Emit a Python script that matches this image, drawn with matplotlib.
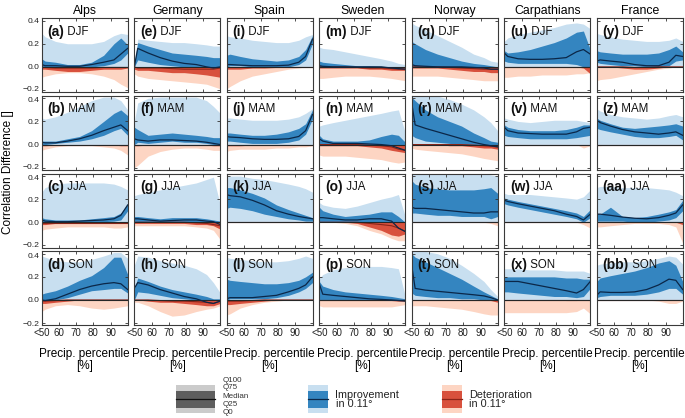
import matplotlib
matplotlib.use("Agg")
import matplotlib.pyplot as plt
from matplotlib.patches import Rectangle
from matplotlib.transforms import ScaledTranslation

plt.rcParams['font.family'] = ['Liberation Sans', 'DejaVu Sans']

# ---------------- data ----------------
countries = ["Alps", "Germany", "Spain", "Sweden", "Norway", "Carpathians", "France"]
seasons = ["DJF", "MAM", "JJA", "SON"]
panel_letters = ["a", "b", "c", "d", "e", "f", "g", "h", "i", "j", "k", "l", "m", "n",
                 "o", "p", "q", "r", "s", "t", "u", "v", "w", "x", "y", "z", "aa", "bb"]
percentiles = [50, 52, 58, 65, 72, 79, 86, 92, 96, 100]
xtick_values = [50, 60, 70, 80, 90]
xtick_labels = ["<50", "60", "70", "80", "90"]
ytick_values = [-0.2, 0.0, 0.2, 0.4]
ytick_labels = ["\u22120.2", "0.0", "0.2", "0.4"]

Z = [0, 0, 0, 0, 0, 0, 0, 0, 0, 0]

# Alps
alps_q100 = [[0.29, 0.26, 0.22, 0.20, 0.20, 0.20, 0.22, 0.27, 0.29, 0.28],
             [0.23, 0.22, 0.24, 0.28, 0.33, 0.38, 0.41, 0.41, 0.38, 0.30],
             [0.26, 0.30, 0.33, 0.34, 0.34, 0.34, 0.34, 0.33, 0.31, 0.28],
             [0.38, 0.37, 0.34, 0.33, 0.33, 0.35, 0.38, 0.41, 0.41, 0.36]]
alps_q75 = [[0.07, 0.05, 0.04, 0.02, 0.02, 0.04, 0.10, 0.20, 0.25, 0.19],
            [0.03, 0.03, 0.03, 0.05, 0.07, 0.12, 0.20, 0.27, 0.30, 0.25],
            [0.04, 0.03, 0.02, 0.02, 0.02, 0.03, 0.04, 0.05, 0.08, 0.16],
            [0.05, 0.06, 0.08, 0.12, 0.17, 0.21, 0.28, 0.37, 0.37, 0.22]]
alps_q25 = [[0.0, 0.0, 0.0, 0.0, 0.0, 0.0, 0.01, 0.03, 0.06, 0.12],
            [0.0, 0.0, 0.01, 0.02, 0.03, 0.05, 0.08, 0.12, 0.14, 0.08],
            [0.0, 0.0, 0.0, 0.0, 0.0, 0.0, 0.005, 0.01, 0.02, 0.10],
            [0.0, 0.0, 0.0, 0.02, 0.05, 0.08, 0.09, 0.10, 0.10, 0.06]]
alps_med = [[0.02, 0.01, 0.01, 0.005, 0.005, 0.02, 0.04, 0.06, 0.11, 0.16],
            [0.02, 0.015, 0.015, 0.03, 0.05, 0.08, 0.12, 0.15, 0.17, 0.12],
            [0.02, 0.01, 0.005, 0.005, 0.01, 0.015, 0.02, 0.03, 0.06, 0.15],
            [0.0, -0.005, 0.01, 0.05, 0.09, 0.12, 0.14, 0.15, 0.14, 0.09]]
alps_rq0 = [[-0.09, -0.08, -0.06, -0.05, -0.05, -0.06, -0.08, -0.11, -0.15, -0.18],
            [-0.05, -0.04, -0.02, -0.01, -0.01, -0.01, -0.02, -0.03, -0.05, -0.09],
            [-0.07, -0.06, -0.05, -0.04, -0.04, -0.04, -0.04, -0.05, -0.05, -0.04],
            [-0.10, -0.08, -0.05, -0.04, -0.05, -0.07, -0.08, -0.07, -0.06, -0.05]]
alps_rq25 = [[-0.02, -0.02, -0.03, -0.04, -0.04, -0.03, -0.02, -0.02, -0.02, -0.01],
             [-0.01, -0.01, -0.005, 0, 0, 0, 0, -0.005, -0.01, -0.01],
             [-0.02, -0.02, -0.01, -0.01, -0.01, -0.01, -0.01, -0.01, -0.01, -0.01],
             [-0.03, -0.03, -0.02, -0.01, 0, 0, 0, 0, 0, 0]]
alps_rmed = [[-0.005, -0.005, -0.01, -0.01, -0.01, -0.01, -0.005, -0.005, -0.005, -0.005],
             Z,
             [-0.005, -0.005, -0.005, -0.005, -0.005, -0.005, -0.005, -0.005, -0.005, -0.005],
             [-0.01, -0.01, -0.005, 0, 0, 0, 0, 0, 0, 0]]

# Germany
germany_q100 = [[0.05, 0.24, 0.23, 0.22, 0.21, 0.21, 0.20, 0.19, 0.18, 0.18],
                [0.20, 0.36, 0.40, 0.41, 0.41, 0.41, 0.41, 0.38, 0.33, 0.27],
                [0.23, 0.24, 0.26, 0.28, 0.30, 0.32, 0.34, 0.37, 0.39, 0.15],
                [0.30, 0.38, 0.37, 0.34, 0.32, 0.30, 0.27, 0.22, 0.15, 0.06]]
germany_q75 = [[0.03, 0.21, 0.18, 0.15, 0.12, 0.11, 0.10, 0.09, 0.08, 0.08],
               [0.15, 0.13, 0.08, 0.09, 0.10, 0.09, 0.08, 0.07, 0.06, 0.06],
               [0.05, 0.05, 0.04, 0.03, 0.04, 0.04, 0.04, 0.03, 0.02, 0.01],
               [0.10, 0.19, 0.16, 0.12, 0.09, 0.07, 0.05, 0.03, 0.01, 0.01]]
germany_q25 = [[0.0, 0.06, 0.04, 0.02, 0.01, 0.0, 0.0, 0.0, 0.0, 0.0],
               [0.0, 0.02, 0.01, 0.02, 0.03, 0.02, 0.02, 0.01, 0.0, 0.0],
               Z,
               [0.0, 0.07, 0.06, 0.04, 0.02, 0.01, 0.0, 0.0, 0.0, 0.0]]
germany_med = [[0.0, 0.16, 0.12, 0.08, 0.05, 0.03, 0.02, 0.0, -0.01, 0.0],
               [0.05, 0.04, 0.03, 0.04, 0.04, 0.035, 0.03, 0.02, 0.01, 0.0],
               [0.03, 0.03, 0.02, 0.01, 0.015, 0.02, 0.02, 0.01, 0.005, -0.02],
               [0.10, 0.15, 0.13, 0.09, 0.06, 0.03, 0.01, -0.02, -0.03, -0.01]]
germany_rq0 = [[-0.06, -0.08, -0.10, -0.11, -0.12, -0.13, -0.14, -0.15, -0.17, -0.19],
               [-0.20, -0.18, -0.10, -0.06, -0.04, -0.03, -0.03, -0.04, -0.05, -0.05],
               [-0.03, -0.03, -0.03, -0.03, -0.03, -0.03, -0.04, -0.05, -0.07, -0.15],
               [-0.02, -0.02, -0.05, -0.10, -0.14, -0.13, -0.10, -0.08, -0.07, -0.05]]
germany_rq25 = [[-0.02, -0.03, -0.03, -0.04, -0.05, -0.05, -0.06, -0.07, -0.08, -0.09],
                [-0.01, -0.01, -0.005, 0, 0, 0, 0, -0.005, -0.01, -0.01],
                [-0.01, -0.01, -0.01, -0.01, -0.01, -0.01, -0.02, -0.02, -0.03, -0.06],
                [0.0, 0.0, -0.01, -0.02, -0.02, -0.03, -0.04, -0.05, -0.05, -0.03]]
germany_rmed = [[0.0, -0.01, -0.01, -0.01, -0.015, -0.02, -0.02, -0.02, -0.02, -0.01],
                Z,
                [0, 0, 0, 0, 0, 0, -0.005, -0.01, -0.02, -0.03],
                [0, 0, 0, -0.005, -0.01, -0.01, -0.015, -0.02, -0.03, -0.01]]

# Spain
spain_q100 = [[0.27, 0.26, 0.25, 0.23, 0.22, 0.21, 0.21, 0.23, 0.26, 0.28],
              [0.23, 0.23, 0.22, 0.21, 0.21, 0.21, 0.22, 0.24, 0.27, 0.31],
              [0.39, 0.40, 0.40, 0.38, 0.37, 0.35, 0.33, 0.31, 0.29, 0.26],
              [0.37, 0.36, 0.35, 0.34, 0.33, 0.33, 0.34, 0.36, 0.38, 0.36]]
spain_q75 = [[0.10, 0.11, 0.09, 0.07, 0.06, 0.05, 0.06, 0.09, 0.15, 0.27],
             [0.10, 0.10, 0.09, 0.08, 0.08, 0.09, 0.11, 0.14, 0.18, 0.30],
             [0.30, 0.30, 0.28, 0.25, 0.21, 0.15, 0.11, 0.08, 0.06, 0.04],
             [0.18, 0.17, 0.16, 0.15, 0.14, 0.14, 0.15, 0.17, 0.20, 0.24]]
spain_q25 = [[0.0, 0.01, 0.01, 0.0, 0.0, 0.0, 0.0, 0.02, 0.06, 0.20],
             [0.03, 0.03, 0.02, 0.01, 0.01, 0.01, 0.02, 0.04, 0.09, 0.22],
             [0.12, 0.13, 0.12, 0.10, 0.07, 0.05, 0.03, 0.02, 0.01, 0.01],
             [0.0, 0.01, 0.01, 0.01, 0.01, 0.02, 0.04, 0.07, 0.10, 0.15]]
spain_med = [[0.02, 0.02, 0.015, 0.01, 0.01, 0.01, 0.015, 0.04, 0.09, 0.24],
             [0.07, 0.065, 0.06, 0.05, 0.045, 0.045, 0.05, 0.07, 0.12, 0.26],
             [0.24, 0.23, 0.22, 0.19, 0.15, 0.10, 0.07, 0.05, 0.04, 0.03],
             [0.01, 0.02, 0.02, 0.02, 0.03, 0.04, 0.07, 0.10, 0.13, 0.20]]
spain_rq0 = [[-0.19, -0.17, -0.12, -0.08, -0.06, -0.04, -0.02, -0.01, 0.0, 0.0],
             [-0.06, -0.05, -0.04, -0.04, -0.04, -0.03, -0.03, -0.02, -0.02, -0.01],
             Z,
             [-0.13, -0.12, -0.07, -0.04, -0.02, -0.01, 0, 0, 0, 0]]
spain_rq25 = [[-0.02, -0.02, -0.02, -0.01, -0.01, -0.005, 0, 0, 0, 0],
              [-0.01, -0.01, -0.01, -0.005, -0.005, 0, 0, 0, 0, 0],
              Z,
              [-0.04, -0.04, -0.03, -0.02, -0.01, 0, 0, 0, 0, 0]]
spain_rmed = [Z, Z, Z, [-0.01, -0.01, -0.01, -0.005, 0, 0, 0, 0, 0, 0]]

# Sweden
sweden_q100 = [[0.17, 0.16, 0.15, 0.13, 0.11, 0.09, 0.07, 0.05, 0.03, 0.02],
               [0.16, 0.17, 0.19, 0.21, 0.23, 0.25, 0.27, 0.29, 0.30, 0.10],
               [0.17, 0.15, 0.13, 0.12, 0.14, 0.17, 0.20, 0.22, 0.24, 0.05],
               [0.19, 0.22, 0.26, 0.28, 0.29, 0.29, 0.29, 0.28, 0.27, 0.03]]
sweden_q75 = [[0.05, 0.04, 0.03, 0.02, 0.01, 0.01, 0.005, 0, 0, 0],
              [0.08, 0.05, 0.03, 0.03, 0.03, 0.04, 0.07, 0.09, 0.08, 0.02],
              [0.13, 0.10, 0.07, 0.05, 0.06, 0.07, 0.09, 0.09, 0.05, 0.0],
              [0.16, 0.12, 0.09, 0.07, 0.06, 0.05, 0.04, 0.03, 0.02, 0.01]]
sweden_q25 = [Z, Z, Z, Z]
sweden_med = [[0.01, 0.005, 0, 0, 0, 0, 0, -0.01, -0.015, -0.02],
              [0.05, 0.03, 0.01, 0.01, 0.01, 0.005, 0, -0.01, -0.03, -0.05],
              [0.04, 0.04, 0.03, 0.02, 0.02, 0.03, 0.03, 0.01, -0.05, -0.08],
              [0.14, 0.05, 0.04, 0.03, 0.02, 0.01, 0.005, 0, -0.005, -0.01]]
sweden_rq0 = [[-0.10, -0.10, -0.09, -0.08, -0.08, -0.08, -0.09, -0.10, -0.11, -0.12],
              [-0.09, -0.10, -0.10, -0.10, -0.11, -0.12, -0.13, -0.15, -0.16, -0.15],
              [0, 0, 0, -0.01, -0.03, -0.07, -0.10, -0.14, -0.16, -0.16],
              [-0.05, -0.06, -0.06, -0.06, -0.06, -0.06, -0.06, -0.06, -0.05, -0.04]]
sweden_rq25 = [[-0.01, -0.01, -0.01, -0.01, -0.01, -0.02, -0.02, -0.03, -0.03, -0.03],
               [-0.01, -0.01, -0.01, -0.01, -0.01, -0.02, -0.03, -0.05, -0.06, -0.07],
               [0, 0, 0, 0, -0.01, -0.04, -0.07, -0.11, -0.12, -0.10],
               [0, 0, 0, 0, 0, 0, 0, -0.005, -0.01, -0.01]]
sweden_rmed = [[0, 0, 0, 0, -0.005, -0.01, -0.01, -0.015, -0.02, -0.02],
               [0, 0, 0, 0, 0, -0.005, -0.01, -0.02, -0.04, -0.05],
               [0, 0, 0, 0, 0, -0.01, -0.02, -0.03, -0.05, -0.08],
               Z]

# Norway
norway_q100 = [[0.38, 0.36, 0.32, 0.27, 0.22, 0.17, 0.11, 0.08, 0.05, 0.04],
               [0.42, 0.42, 0.42, 0.42, 0.39, 0.35, 0.30, 0.24, 0.19, 0.12],
               [0.42, 0.42, 0.42, 0.42, 0.42, 0.42, 0.42, 0.42, 0.41, 0.40],
               [0.42, 0.42, 0.42, 0.40, 0.36, 0.30, 0.23, 0.16, 0.09, 0.03]]
norway_q75 = [[0.22, 0.20, 0.15, 0.11, 0.08, 0.05, 0.03, 0.02, 0.01, 0.0],
              [0.41, 0.38, 0.30, 0.24, 0.20, 0.16, 0.10, 0.06, 0.03, 0.02],
              [0.36, 0.33, 0.30, 0.29, 0.28, 0.28, 0.28, 0.29, 0.30, 0.25],
              [0.40, 0.37, 0.33, 0.28, 0.23, 0.18, 0.12, 0.07, 0.04, 0.01]]
norway_q25 = [Z,
              [0.08, 0.06, 0.03, 0.02, 0.01, 0, 0, 0, 0, 0],
              [0.08, 0.08, 0.07, 0.06, 0.06, 0.05, 0.05, 0.05, 0.03, 0.05],
              [0.06, 0.04, 0.03, 0.02, 0.02, 0.01, 0.01, 0, 0, 0]]
norway_med = [[0.02, 0.01, 0.005, 0, 0, 0, -0.005, -0.01, -0.02, -0.02],
              [0.36, 0.17, 0.14, 0.11, 0.08, 0.05, 0.02, 0.0, -0.01, -0.02],
              [0.13, 0.12, 0.12, 0.11, 0.10, 0.09, 0.08, 0.08, 0.09, 0.09],
              [0.30, 0.10, 0.085, 0.075, 0.065, 0.055, 0.045, 0.035, 0.02, 0.0]]
norway_rq0 = [[-0.08, -0.08, -0.08, -0.08, -0.09, -0.10, -0.11, -0.12, -0.12, -0.12],
              [-0.03, -0.04, -0.05, -0.06, -0.07, -0.08, -0.10, -0.12, -0.13, -0.14],
              [0, 0, 0, 0, 0, 0, 0, 0, -0.01, -0.03],
              [-0.05, -0.05, -0.05, -0.06, -0.07, -0.08, -0.10, -0.12, -0.13, -0.13]]
norway_rq25 = [[-0.01, -0.01, -0.01, -0.01, -0.02, -0.03, -0.04, -0.04, -0.05, -0.05],
               [0, 0, 0, 0, -0.01, -0.01, -0.02, -0.03, -0.03, -0.04],
               Z,
               [0, 0, 0, 0, 0, 0, 0, 0, -0.005, -0.02]]
norway_rmed = [[0, 0, 0, 0, -0.005, -0.01, -0.015, -0.02, -0.02, -0.02],
               [0, 0, 0, 0, 0, 0, -0.005, -0.01, -0.015, -0.02],
               Z, Z]

# Carpathians
carpathians_q100 = [[0.22, 0.25, 0.28, 0.30, 0.32, 0.34, 0.37, 0.38, 0.37, 0.33],
                    [0.23, 0.22, 0.20, 0.19, 0.20, 0.21, 0.21, 0.21, 0.20, 0.19],
                    [0.25, 0.24, 0.24, 0.24, 0.23, 0.22, 0.21, 0.20, 0.22, 0.28],
                    [0.27, 0.27, 0.27, 0.26, 0.26, 0.26, 0.25, 0.25, 0.25, 0.23]]
carpathians_q75 = [[0.14, 0.12, 0.13, 0.15, 0.18, 0.21, 0.25, 0.30, 0.31, 0.15],
                   [0.17, 0.15, 0.13, 0.12, 0.12, 0.12, 0.13, 0.15, 0.17, 0.17],
                   [0.21, 0.20, 0.18, 0.16, 0.14, 0.12, 0.10, 0.08, 0.05, 0.11],
                   [0.20, 0.20, 0.20, 0.20, 0.20, 0.20, 0.19, 0.19, 0.18, 0.18]]
carpathians_q25 = [[0.05, 0.04, 0.03, 0.03, 0.03, 0.03, 0.03, 0.02, 0.0, -0.02],
                   [0.08, 0.07, 0.06, 0.05, 0.05, 0.05, 0.05, 0.06, 0.07, 0.08],
                   [0.16, 0.15, 0.13, 0.11, 0.09, 0.07, 0.05, 0.03, 0.0, 0.04],
                   [0.07, 0.07, 0.06, 0.05, 0.04, 0.03, 0.03, 0.02, 0.03, 0.10]]
carpathians_med = [[0.12, 0.09, 0.07, 0.065, 0.065, 0.07, 0.08, 0.13, 0.15, 0.11],
                   [0.15, 0.12, 0.10, 0.095, 0.09, 0.09, 0.09, 0.11, 0.14, 0.15],
                   [0.19, 0.18, 0.16, 0.14, 0.12, 0.10, 0.07, 0.05, 0.02, 0.07],
                   [0.16, 0.16, 0.16, 0.14, 0.12, 0.10, 0.08, 0.06, 0.09, 0.16]]
carpathians_rq0 = [[-0.09, -0.09, -0.08, -0.08, -0.07, -0.07, -0.07, -0.06, -0.06, -0.05],
                   [-0.01, -0.01, 0, 0, 0, 0, 0, 0, -0.03, -0.01],
                   [0, 0, 0, 0, 0, 0, 0, 0, -0.02, -0.05],
                   [-0.11, -0.11, -0.11, -0.11, -0.11, -0.11, -0.11, -0.10, -0.07, -0.12]]
carpathians_rq25 = [[0, 0, 0, 0, 0, 0, 0, 0, -0.01, -0.06],
                    Z, Z,
                    [0, 0, 0, 0, 0, 0, -0.005, -0.005, 0, 0]]
carpathians_rmed = [Z, Z, Z, Z]

# France
france_q100 = [[0.29, 0.28, 0.26, 0.24, 0.23, 0.22, 0.22, 0.23, 0.25, 0.22],
               [0.31, 0.29, 0.26, 0.24, 0.23, 0.22, 0.23, 0.25, 0.26, 0.24],
               [0.30, 0.31, 0.31, 0.30, 0.30, 0.30, 0.29, 0.28, 0.26, 0.23],
               [0.30, 0.31, 0.32, 0.33, 0.33, 0.34, 0.36, 0.38, 0.37, 0.31]]
france_q75 = [[0.14, 0.13, 0.12, 0.11, 0.11, 0.11, 0.12, 0.15, 0.18, 0.13],
              [0.23, 0.21, 0.18, 0.15, 0.14, 0.15, 0.16, 0.17, 0.18, 0.16],
              [0.08, 0.07, 0.13, 0.05, 0.04, 0.05, 0.07, 0.09, 0.11, 0.19],
              [0.16, 0.19, 0.21, 0.23, 0.25, 0.28, 0.32, 0.34, 0.30, 0.16]]
france_q25 = [[0.04, 0.03, 0.02, 0.01, 0.01, 0.0, 0.0, 0.01, 0.05, 0.06],
              [0.14, 0.13, 0.11, 0.09, 0.07, 0.06, 0.06, 0.07, 0.08, 0.04],
              [0.01, 0.01, 0.01, 0.01, 0.0, 0.0, 0.01, 0.02, 0.04, 0.10],
              [0.02, 0.03, 0.04, 0.04, 0.04, 0.05, 0.07, 0.10, 0.10, 0.05]]
france_med = [[0.05, 0.06, 0.05, 0.04, 0.02, 0.01, 0.01, 0.04, 0.10, 0.09],
              [0.21, 0.19, 0.16, 0.13, 0.11, 0.10, 0.09, 0.10, 0.11, 0.08],
              [0.07, 0.07, 0.06, 0.045, 0.035, 0.03, 0.04, 0.06, 0.08, 0.15],
              [0.04, 0.07, 0.065, 0.065, 0.07, 0.09, 0.13, 0.18, 0.17, 0.09]]
france_rq0 = [[-0.12, -0.11, -0.10, -0.08, -0.06, -0.04, -0.02, -0.01, 0, 0],
              [-0.01, -0.01, 0, 0, 0, 0, 0, 0, 0, -0.01],
              [-0.04, -0.04, -0.03, -0.02, -0.01, -0.01, -0.01, -0.02, -0.04, -0.18],
              [0, 0, 0, 0, 0, 0, -0.01, -0.03, -0.03, -0.01]]
france_rq25 = [[0, 0, 0, -0.01, -0.02, -0.02, -0.01, 0, 0, 0],
               Z,
               [0, 0, 0, 0, 0, 0, 0, 0, 0, -0.02],
               Z]
france_rmed = [[0, 0, 0, 0, -0.005, -0.005, 0, 0, 0, 0], Z, Z, Z]

q100 = [alps_q100, germany_q100, spain_q100, sweden_q100, norway_q100, carpathians_q100, france_q100]
q75 = [alps_q75, germany_q75, spain_q75, sweden_q75, norway_q75, carpathians_q75, france_q75]
q25 = [alps_q25, germany_q25, spain_q25, sweden_q25, norway_q25, carpathians_q25, france_q25]
med = [alps_med, germany_med, spain_med, sweden_med, norway_med, carpathians_med, france_med]
rq0 = [alps_rq0, germany_rq0, spain_rq0, sweden_rq0, norway_rq0, carpathians_rq0, france_rq0]
rq25 = [alps_rq25, germany_rq25, spain_rq25, sweden_rq25, norway_rq25, carpathians_rq25, france_rq25]
rmed = [alps_rmed, germany_rmed, spain_rmed, sweden_rmed, norway_rmed, carpathians_rmed, france_rmed]

# ---------------- style ----------------
LIGHT_BLUE = "#c8dff0"
DARK_BLUE = "#3485c0"
LIGHT_RED = "#fdd5c3"
DARK_RED = "#d8513d"
MED_BLUE = "#0b2748"
MED_RED = "#8a2418"
ZERO_COL = "#262626"

W, H = 685, 418
fig = plt.figure(figsize=(W / 100, H / 100), dpi=100)

col_left = [41.7, 134.3, 226.5, 319.3, 411.7, 504.3, 596.7]
row_top = [18.3, 96.0, 173.7, 251.4]
ax_w, ax_h = 86.0, 74.0

nudge_down = ScaledTranslation(0, -1.3 / 100, fig.dpi_scale_trans)
nudge_up = ScaledTranslation(0, 1.3 / 100, fig.dpi_scale_trans)

for ci, country in enumerate(countries):
    for ri, season in enumerate(seasons):
        l = col_left[ci] / W
        b = 1 - (row_top[ri] + ax_h) / H
        ax = fig.add_axes([l, b, ax_w / W, ax_h / H])
        x = percentiles
        ax.fill_between(x, 0, q100[ci][ri], color=LIGHT_BLUE, lw=0)
        ax.fill_between(x, rq0[ci][ri], 0, color=LIGHT_RED, lw=0)
        ax.fill_between(x, q25[ci][ri], q75[ci][ri], color=DARK_BLUE, lw=0)
        ax.fill_between(x, rq25[ci][ri], 0, color=DARK_RED, lw=0)
        ax.plot(x, rmed[ci][ri], color=MED_RED, lw=0.8)
        ax.axhline(0, color=ZERO_COL, lw=0.8)
        ax.plot(x, med[ci][ri], color=MED_BLUE, lw=0.9)
        ax.set_xlim(50, 100)
        ax.set_ylim(-0.22, 0.42)
        ax.set_xticks(xtick_values)
        ax.set_yticks(ytick_values)
        ax.tick_params(direction="in", length=2.5, width=0.6, top=True, right=True,
                       pad=2, colors="#333333", labelcolor="#222222")
        ax.tick_params(axis="x", labelsize=7)
        ax.tick_params(axis="y", labelsize=6.1, pad=1.5)
        if ri == 3:
            ax.set_xticklabels(xtick_labels)
            ax.set_xlabel("Precip. percentile\n[%]", fontsize=8.5, labelpad=7, linespacing=1.05)
        else:
            ax.set_xticklabels([])
        if ci == 0:
            ax.set_yticklabels(ytick_labels)
            labs = ax.get_yticklabels()
            if ri > 0:
                labs[3].set_transform(labs[3].get_transform() + nudge_down)
            if ri < 3:
                labs[0].set_transform(labs[0].get_transform() + nudge_up)
        else:
            ax.set_yticklabels([])
        if ri == 0:
            ax.set_title(country, fontsize=8.8, pad=3)
        for s in ax.spines.values():
            s.set_color("#3a3a3a")
            s.set_linewidth(0.8)
        letter = panel_letters[ci * 4 + ri]
        t = ax.text(0.065, 0.82, f"({letter})", transform=ax.transAxes, fontsize=10,
                    fontweight="bold", va="center", ha="left", color="#111111")
        ax.annotate(" " + season, xy=(1, 0.5), xycoords=t, va="center", ha="left",
                    fontsize=8.3, color="#111111")

fig.text(0.012, 1 - 172 / H, "Correlation Difference []", rotation=90,
         va="center", ha="center", fontsize=8.5)

# ---------------- legend ----------------
lax = fig.add_axes([150 / W, 0, (W - 150) / W, 48 / H])
lax.set_xlim(150, W)
lax.set_ylim(418, 370)
lax.axis("off")

lax.add_patch(Rectangle((176, 385), 39, 28, color="#cbcbcb", lw=0))
lax.add_patch(Rectangle((176, 390.5), 39, 17, color="#5e5e5e", lw=0))
lax.plot([176, 215], [399.3, 399.3], color="#111111", lw=0.9)
for lab, yy in zip(["Q100", "Q75", "Median", "Q25", "Q0"], [380.5, 387.8, 396.0, 404.5, 412.3]):
    lax.text(222.5, yy, lab, fontsize=5.8, va="center", ha="left", color="#333333")

lax.add_patch(Rectangle((308.3, 385), 20, 28, color=LIGHT_BLUE, lw=0))
lax.add_patch(Rectangle((308.3, 390.5), 20, 17, color=DARK_BLUE, lw=0))
lax.plot([308.3, 328.3], [399.3, 399.3], color=MED_BLUE, lw=0.9)
lax.text(335.5, 399.5, "Improvement\nin 0.11\u00b0", fontsize=7.8, va="center", ha="left",
         linespacing=0.85, color="#222222")

lax.add_patch(Rectangle((441.7, 385), 20, 28, color=LIGHT_RED, lw=0))
lax.add_patch(Rectangle((441.7, 390.5), 20, 17, color=DARK_RED, lw=0))
lax.plot([441.7, 461.7], [399.3, 399.3], color=MED_RED, lw=0.9)
lax.text(469, 399.5, "Deterioration\nin 0.11\u00b0", fontsize=7.8, va="center", ha="left",
         linespacing=0.85, color="#222222")

fig.savefig("out.png", dpi=100)
